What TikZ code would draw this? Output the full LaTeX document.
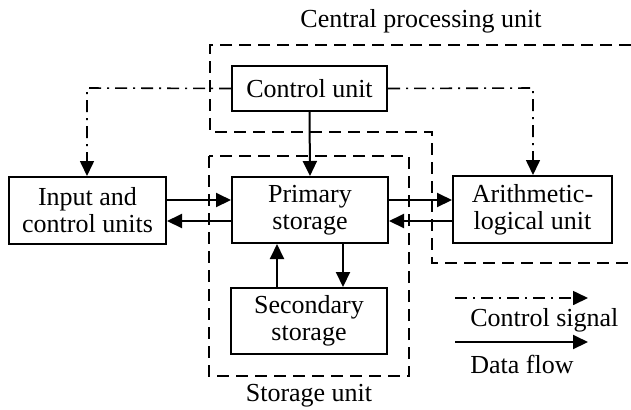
\documentclass[tikz,border=0pt]{standalone}
\usepackage{fontspec}
\setmainfont{Liberation Serif}
\usetikzlibrary{arrows.meta}
\begin{document}
\begin{tikzpicture}[x=0.5pt,y=-0.5pt,
  font=\fontsize{13}{13.5}\selectfont,
  box/.style={draw,line width=1pt,inner sep=0pt,align=center,minimum width=78pt,minimum height=33pt},
  tip/.style={-{Triangle[length=7.5pt,width=7pt]}},
  data/.style={line width=1pt,tip},
  ctrlsig/.style={line width=0.8pt,dash pattern=on 6pt off 3pt on 1pt off 3pt,tip},
  region/.style={line width=0.8pt,dash pattern=on 6pt off 3.5pt}]
\useasboundingbox (0,0) rectangle (631,409);
% nodes
\node[box,minimum width=77.5pt,minimum height=22.5pt] (ctrl) at (309.5,88.5) {Control unit};
\node[box] (prim) at (310,210) {Primary\\storage};
\node[box] (sec) at (309,321) {Secondary\\storage};
\node[box,minimum width=78.5pt,minimum height=33.5pt] (inp) at (87.5,210.5) {Input and\\control units};
\node[box,minimum width=79.5pt,minimum height=33.5pt] (alu) at (532.5,209.5) {Arithmetic-\\logical unit};
% labels
\node (cpulab) at (421,21) {Central processing unit};
\node (stlab) at (309,396) {Storage unit};
% dashed regions
\draw[region] (631,45) -- (210,45) -- (210,132) -- (432,132) -- (432,263) -- (631,263);
\draw[region] (209,156) rectangle (409,376);
% data flow
\draw[data] (ctrl.south) -- (prim.north);
\draw[data] (inp.east |- 0,200) -- (prim.west |- 0,200);
\draw[data] (prim.west |- 0,221) -- (inp.east |- 0,221);
\draw[data] (prim.east |- 0,200) -- (alu.west |- 0,200);
\draw[data] (alu.west |- 0,221) -- (prim.east |- 0,221);
\draw[data] (sec.north -| 277,0) -- (prim.south -| 277,0);
\draw[data] (prim.south -| 343,0) -- (sec.north -| 343,0);
% control signals
\coordinate (cl) at (87,88);
\coordinate (cr) at (533,88);
\draw[ctrlsig] (ctrl.west) -- (cl) -- (inp.north -| cl);
\draw[ctrlsig] (ctrl.east) -- (cr) -- (alu.north -| cr);
% legend
\coordinate (l1a) at (455,298);
\coordinate (l1b) at (588,298);
\coordinate (l2a) at (455,342);
\coordinate (l2b) at (588,342);
\draw[ctrlsig] (l1a) -- (l1b);
\draw[data] (l2a) -- (l2b);
\node[anchor=west,inner sep=0pt] (cslab) at (470,320) {Control signal};
\node[anchor=west,inner sep=0pt] (dflab) at (470,364) {Data flow};
\end{tikzpicture}
\end{document}
